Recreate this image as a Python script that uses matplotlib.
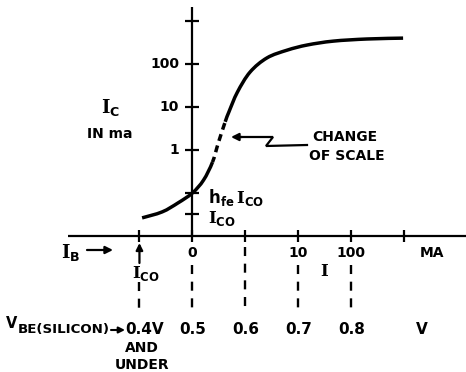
import numpy as np
import matplotlib
matplotlib.use("Agg")
import matplotlib.pyplot as plt
from matplotlib.path import Path
from matplotlib.patches import PathPatch

plt.rcParams["font.family"] = ["DejaVu Sans"]
plt.rcParams["mathtext.fontset"] = "custom"
plt.rcParams["mathtext.rm"] = "DejaVu Serif:bold"
plt.rcParams["mathtext.sf"] = "DejaVu Sans:bold"
plt.rcParams["mathtext.it"] = "DejaVu Sans:bold"
plt.rcParams["mathtext.bf"] = "DejaVu Sans:bold"
plt.rcParams["lines.scale_dashes"] = False

# ---------------- data ----------------
# vertical I_C scale: log10(I_C in mA) of the upper (logarithmic) ticks
ic_decades = [3, 2, 1, 0]
ic_labels = ["", "100", "10", "1"]
# levels below the change of scale
low_levels = [-1.0, -1.5]
low_labels = [r"$\mathsf{h}_{\mathsf{fe}}\,\mathrm{I}_{\mathsf{CO}}$",
              r"$\mathrm{I}_{\mathsf{CO}}$"]
axis_level = -2.0

# horizontal scale: base-emitter voltage of each base-current tick
vbe_ticks = [0.4, 0.5, 0.6, 0.7, 0.8, 0.9]
ib_labels = ["", "0", "", "10", "100", ""]
vbe_labels = ["0.4V", "0.5", "0.6", "0.7", "0.8"]

# collector current curve: log10(I_C) versus V_BE
curve_vbe = [0.405, 0.443, 0.473, 0.500, 0.521, 0.538, 0.549, 0.562, 0.569,
             0.585, 0.609, 0.641, 0.679, 0.717, 0.766, 0.830, 0.898]
curve_logic = [-1.58, -1.44, -1.23, -1.00, -0.70, -0.28, 0.17, 0.66, 0.89,
               1.35, 1.82, 2.15, 2.33, 2.45, 2.54, 2.59, 2.61]
scale_change = (5, 7)   # curve indices drawn dashed ("change of scale")

# ---------------- layout ----------------
fig = plt.figure(figsize=(4.66, 3.72), dpi=100)
ax = fig.add_axes([0, 0, 1, 1])
ax.set_xlim(0.13659, 1.01683)
ax.set_ylim(-5.1725, 3.4988)
ax.axis("off")


def P(xp, yp):
    """layout helper: reference-pixel position -> data position"""
    return 0.65 + (xp - 271.8) / 529.4, (150.1 - yp) / 42.9


K = "black"
AXLW = 1.6
BOLD = dict(weight="bold", color=K)
x0 = vbe_ticks[1]

# axes lines
ax.plot([x0, x0], [axis_level, P(0, 7)[1]], color=K, lw=AXLW, solid_capstyle="butt")
ax.plot([P(68, 0)[0], P(466, 0)[0]], [axis_level, axis_level], color=K, lw=AXLW,
        solid_capstyle="butt")

# ticks
ax.plot([x0] * (len(ic_decades) + len(low_levels)), ic_decades + low_levels,
        ls="none", marker="_", ms=10, mew=1.6, color=K)
ax.plot(vbe_ticks, [axis_level] * len(vbe_ticks), ls="none", marker="|", ms=9,
        mew=1.6, color=K)

# vertical tick labels
for d, lab in zip(ic_decades, ic_labels):
    ax.annotate(lab, (x0, d), xytext=(-9.5, 0), textcoords="offset points",
                ha="right", va="center", fontsize=10, **BOLD)
for lvl, lab in zip(low_levels, low_labels):
    ax.annotate(lab, (x0, lvl), xytext=(11, -3), textcoords="offset points",
                ha="left", va="center", fontsize=12, color=K)

# base current labels
for v, lab in zip(vbe_ticks, ib_labels):
    if lab:
        ax.annotate(lab, (v, axis_level), xytext=(0, -12), textcoords="offset points",
                    ha="center", va="center", fontsize=10, **BOLD)
ax.text(*P(432, 253), "MA", ha="center", va="center", fontsize=10, **BOLD)
ax.text(*P(61, 253), r"$\mathrm{I}_{\mathsf{B}}$", ha="left", va="center",
        fontsize=13, color=K)
ax.annotate("", xy=P(113, 250), xytext=P(87, 250),
            arrowprops=dict(arrowstyle="-|>", color=K, lw=1.6, mutation_scale=11,
                            shrinkA=0, shrinkB=0))
ax.annotate("", xy=(vbe_ticks[0], P(0, 243)[1]), xytext=(vbe_ticks[0], P(0, 263)[1]),
            arrowprops=dict(arrowstyle="-|>", color=K, lw=1.6, mutation_scale=10,
                            shrinkA=0, shrinkB=0))
ax.annotate(r"$\mathrm{I}_{\mathsf{CO}}$", (vbe_ticks[0], P(0, 274)[1]),
            xytext=(5, 0), textcoords="offset points", ha="center", va="center",
            fontsize=12, color=K)
ax.text(*P(325, 271), r"$\mathrm{I}$", ha="center", va="center", fontsize=12, color=K)

# dashed guides from the base current ticks to the V_BE values
guide_top_px = [282, 265, 247, 265, 265]
for v, top in zip(vbe_ticks[:len(vbe_labels)], guide_top_px):
    ax.plot([v, v], [P(0, top)[1], P(0, 313)[1]], color=K, lw=1.7,
            dashes=(6.5, 5.5), solid_capstyle="butt", dash_capstyle="butt",
            snap=True)

# V_BE labels
yv = P(0, 330)[1]
for i, (v, lab) in enumerate(zip(vbe_ticks, vbe_labels)):
    ax.annotate(lab, (v, yv), xytext=(4 if i == 0 else 0, 0), textcoords="offset points",
                ha="center", va="center", fontsize=11, **BOLD)
ax.annotate("AND", (vbe_ticks[0], P(0, 348)[1]), xytext=(2, 0), textcoords="offset points",
            ha="center", va="center", fontsize=10, **BOLD)
ax.annotate("UNDER", (vbe_ticks[0], P(0, 365)[1]), xytext=(2, 0), textcoords="offset points",
            ha="center", va="center", fontsize=10, **BOLD)
ax.text(*P(422, 330), "V", ha="center", va="center", fontsize=11, **BOLD)
ax.text(*P(6, 324), "V", ha="left", va="center", fontsize=10.5, **BOLD)
ax.text(*P(18, 330), "BE(SILICON)", ha="left", va="center", fontsize=9.6, **BOLD)
ax.annotate("", xy=P(125, 330), xytext=P(111, 330),
            arrowprops=dict(arrowstyle="-|>", color=K, lw=1.5, mutation_scale=9,
                            shrinkA=0, shrinkB=0))

# axis title
ax.text(*P(111, 108), r"$\mathrm{I}_{\mathsf{C}}$", ha="center", va="center",
        fontsize=13, color=K)
ax.text(*P(110, 134), "IN ma", ha="center", va="center", fontsize=10, **BOLD)


# collector current curve, drawn as a smooth Catmull-Rom / Bezier path
def smooth_path(xs, ys, i0, i1):
    pts = np.column_stack([xs, ys])
    n = len(pts)
    verts = [pts[i0]]
    codes = [Path.MOVETO]
    for i in range(i0, i1):
        p0 = pts[max(i - 1, 0)]
        p1 = pts[i]
        p2 = pts[i + 1]
        p3 = pts[min(i + 2, n - 1)]
        c1 = p1 + (p2 - p0) / 6.0
        c2 = p2 - (p3 - p1) / 6.0
        verts += [c1, c2, p2]
        codes += [Path.CURVE4] * 3
    return Path(verts, codes)


a, b = scale_change
n = len(curve_vbe)
for (i0, i1, ls) in [(0, a, "-"), (a, b, (1.0, (5.0, 3.5))), (b, n - 1, "-")]:
    ax.add_patch(PathPatch(smooth_path(curve_vbe, curve_logic, i0, i1),
                           facecolor="none", edgecolor=K, lw=2.5, linestyle=ls,
                           capstyle="butt", joinstyle="round"))

# "change of scale" callout
zig = [P(307, 145), P(266, 146), P(273, 137), P(240, 137)]
ax.plot([p[0] for p in zig], [p[1] for p in zig], color=K, lw=1.6,
        solid_joinstyle="miter")
ax.annotate("", xy=P(231, 137), xytext=P(242, 137),
            arrowprops=dict(arrowstyle="-|>", color=K, lw=1.6, mutation_scale=11,
                            shrinkA=0, shrinkB=0))
ax.text(*P(345, 137), "CHANGE", ha="center", va="center", fontsize=10, **BOLD)
ax.text(*P(347, 156), "OF SCALE", ha="center", va="center", fontsize=10, **BOLD)

fig.savefig("out.png", dpi=100, facecolor="white")
